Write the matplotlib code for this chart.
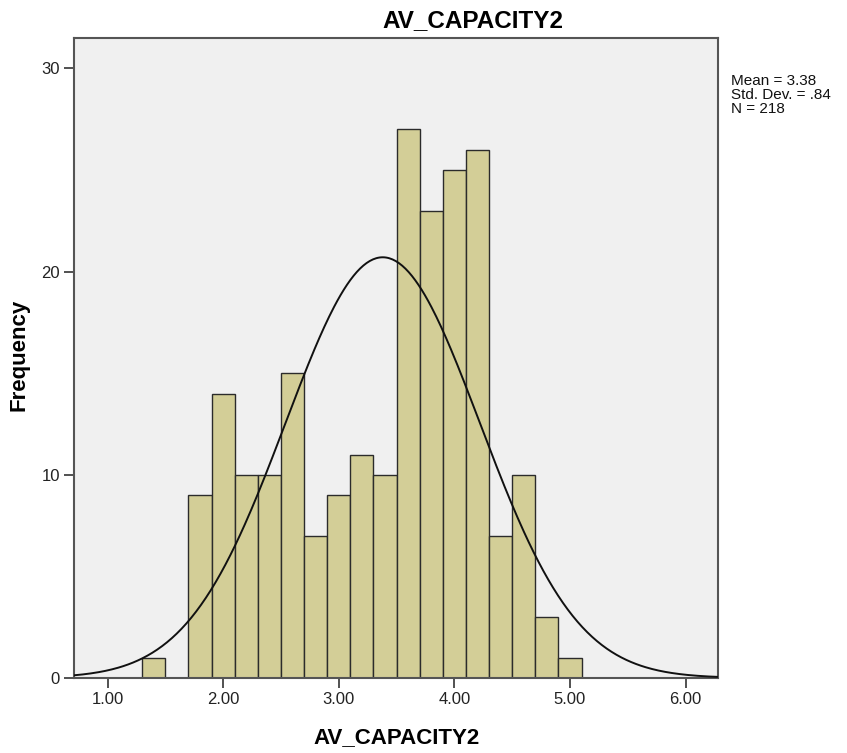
import numpy as np
import matplotlib
matplotlib.use("Agg")
import matplotlib.pyplot as plt

plt.rcParams['font.family'] = ['Liberation Sans', 'DejaVu Sans']

# 直方图数据 (bin 边界, 频数)
bin_edges = [1.3, 1.5, 1.7, 1.9, 2.1, 2.3, 2.5, 2.7, 2.9, 3.1, 3.3, 3.5, 3.7, 3.9, 4.1, 4.3, 4.5, 4.7, 4.9, 5.1]
counts = [1, 0, 9, 14, 10, 10, 15, 7, 9, 11, 10, 27, 23, 25, 26, 7, 10, 3, 1]
x_ticks = [1.0, 2.0, 3.0, 4.0, 5.0, 6.0]
y_ticks = [0, 10, 20, 30]

mean = 3.38
std = 0.84
n = 218
bin_w = 0.2

W, H = 847, 753
fig = plt.figure(figsize=(W / 100, H / 100), dpi=100)
ax = fig.add_axes([74 / W, 1 - 678 / H, (718 - 74) / W, (678 - 38) / H])
ax.set_facecolor('#f0f0f0')

left = np.array(bin_edges[:-1])
ax.bar(left, counts, width=bin_w, align='edge', color='#d3ce97',
       edgecolor='#2b2b2b', linewidth=1.0, zorder=2)

# 正态曲线
xs = np.linspace(0.7, 6.3, 400)
ys = n * bin_w / (std * np.sqrt(2 * np.pi)) * np.exp(-0.5 * ((xs - mean) / std) ** 2)
ax.plot(xs, ys, color='#111111', linewidth=1.4, zorder=3)

ax.set_xlim(0.71, 6.28)
ax.set_ylim(0, 31.5)
ax.set_xticks(x_ticks)
ax.set_xticklabels(['%.2f' % t for t in x_ticks])
ax.set_yticks(y_ticks)
ax.tick_params(direction='out', length=7, width=1.2, labelsize=12, colors='#333333',
               labelcolor='#222222', pad=3)
for s in ax.spines.values():
    s.set_color('#555555')
    s.set_linewidth(1.5)

# 标题和坐标轴标签
fig.text(473 / W, 1 - 27 / H, 'AV_CAPACITY2', fontsize=17.5, fontweight='bold',
         ha='center', va='baseline')
fig.text(397 / W, 1 - 743 / H, 'AV_CAPACITY2', fontsize=16, fontweight='bold',
         ha='center', va='baseline')
fig.text(19 / W, 1 - 355 / H, 'Frequency', fontsize=16, fontweight='bold',
         rotation=90, ha='center', va='center')

# 统计信息
stats = ['Mean = 3.38', 'Std. Dev. = .84', 'N = 218']
fig.text(731 / W, 1 - 74 / H, '\n'.join(stats), fontsize=11, linespacing=1.02,
         ha='left', va='top', color='#111111')

fig.savefig('out.png', dpi=100, facecolor='white')
